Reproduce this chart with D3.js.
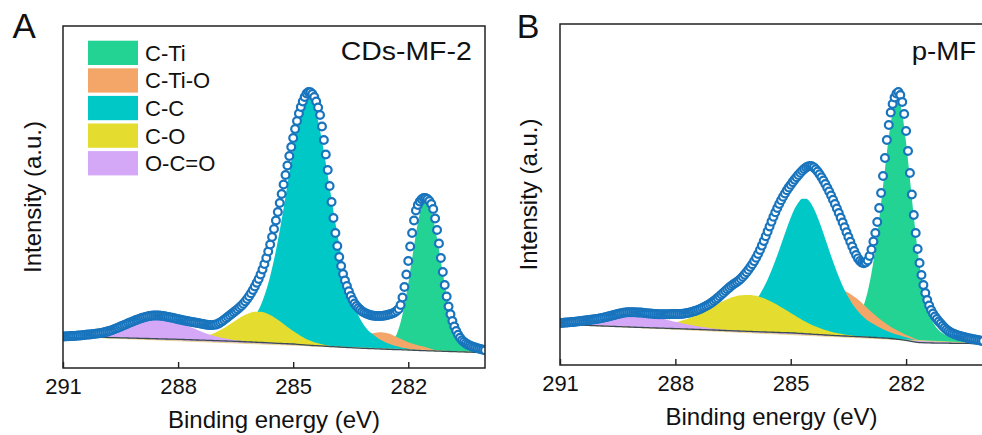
<!DOCTYPE html>
<html>
<head>
<meta charset="utf-8">
<script src="https://cdn.jsdelivr.net/npm/d3@7"></script>
<style>
  body { margin: 0; background: #fff; }
  svg { display: block; }
  text { font-family: "Liberation Sans", Arial, Helvetica, sans-serif; fill: #111; }
</style>
</head>
<body>
<svg id="chart" width="982" height="435"></svg>
<script>
// ---- C 1s XPS spectra: measured points, Shirley background and fitted components ----
const energyHigh = 291;          // binding energy at the left edge (eV)
const energyLow = 280;           // binding energy at the right edge (eV)
const measuredStep = 0.05;       // spacing of measured points (eV)
const fitStep = 0.1;             // spacing of background / component curves (eV)
const tickValues = [291, 288, 285, 282];

const componentNames = ["C-Ti", "C-Ti-O", "C-C", "C-O", "O-C=O"];
const componentColors = ["#22d394", "#f4a669", "#00c8c6", "#e4dc2f", "#d4a8f7"];

// Panel A: CDs-MF-2 (intensities in a.u.)
const measuredA = [
  315,316,317,318,319,320,321,323,324,326,
  328,330,332,334,336,338,340,343,345,348,
  350,354,359,364,370,376,383,390,398,406,
  414,422,430,438,447,455,463,471,479,486,
  493,499,505,510,515,519,522,524,525,525,
  524,522,520,517,513,510,506,502,497,493,
  488,484,480,476,472,468,465,461,458,454,
  450,447,443,440,436,433,430,429,430,432,
  436,444,455,468,482,497,512,527,542,557,
  572,588,605,623,643,665,690,718,748,780,
  815,852,890,935,985,1040,1100,1165,1235,1310,
  1390,1475,1560,1650,1740,1835,1930,2025,2120,2210,
  2300,2390,2470,2545,2610,2665,2710,2745,2760,2758,
  2740,2710,2665,2605,2530,2415,2280,2135,1980,1820,
  1660,1500,1350,1220,1110,1020,940,875,820,768,
  720,680,645,620,600,582,565,555,545,537,
  530,526,523,521,520,520,521,523,526,530,
  535,541,548,558,572,590,630,705,810,935,
  1070,1215,1350,1475,1575,1630,1665,1688,1700,1700,
  1690,1670,1640,1590,1495,1380,1245,1100,960,830,
  715,615,537,470,415,370,333,302,278,261,
  246,234,225,217,210,204,198,192,187,182,
  177
];
const backgroundA = [
  317,316,315,314,313,312,311,310,309,308,
  307,306,305,304,303,302,301,300,299,298,
  297,296,295,294,293,292,291,290,289,288,
  287,286,284,283,282,280,279,278,276,275,
  274,272,271,269,268,266,265,263,261,260,
  258,256,255,253,251,249,247,245,243,242,
  240,237,234,231,228,225,223,221,219,216,
  214,212,210,207,205,203,201,199,197,196,
  194,193,191,190,188,187,185,184,183,181,
  180,178,177,175,174,172,171,170,169,167,
  166,165,164,162,161,160,159,157,156,155,
  153
];
// fitted components, in legend order; each starts at the energy in fitStartsA
const fitStartsA = [282.9, 283.5, 287.0, 288.3, 291.0];
const cTiA = [1,3,7,18,40,82,156,274,444,664,916,1166,1370,1485,1488,1396,1228,1013,784,569,387,247,148,83,44,22,10,4,2,1];
const cTiOA = [62,82,100,118,134,148,158,165,168,165,157,143,127,110,93,77,66,56,48,40,30,19,9,3,0];
const ccA = [
  58,64,70,78,87,99,115,137,166,205,
  258,326,415,528,666,833,1025,1240,1473,1711,
  1945,2156,2329,2440,2480,2440,2329,2156,1945,1711,
  1473,1240,1025,833,666,528,415,326,258,205,
  166,137,110,88,70,55,43,33,25,18,
  13,9,6,4,2,1,0
];
const coA = [
  1,1,2,3,4,7,10,14,21,29,
  39,51,67,85,107,130,156,183,210,236,
  259,279,294,304,307,304,294,279,259,236,
  210,183,156,130,107,85,67,51,39,29,
  21,14,10,7,4,3,2,1,1
];
const ocoA = [
  3,5,6,9,12,15,20,26,33,41,
  50,61,73,86,100,115,130,146,160,174,
  187,198,206,212,215,215,212,206,198,187,
  174,160,146,130,115,100,86,73,61,50,
  41,33,26,20,15,12,9,6,5,3,
  2,1,1
];

// Panel B: p-MF (intensities in a.u.)
const measuredB = [
  420,421,422,424,425,427,429,431,433,435,
  437,440,442,444,447,449,452,454,457,460,
  463,467,471,475,479,484,489,494,499,504,
  509,514,518,522,525,527,528,528,528,527,
  526,525,524,522,520,518,516,514,512,510,
  509,508,507,507,507,507,508,508,509,509,
  509,509,510,511,513,516,519,523,528,533,
  539,546,553,561,570,580,590,601,613,626,
  640,655,671,688,705,723,740,757,774,790,
  805,818,830,845,862,882,904,928,953,980,
  1008,1039,1073,1110,1150,1194,1240,1288,1336,1385,
  1434,1483,1528,1570,1610,1647,1682,1715,1747,1776,
  1803,1829,1854,1878,1901,1923,1943,1961,1976,1986,
  1990,1987,1976,1958,1935,1908,1878,1845,1810,1773,
  1735,1695,1653,1610,1565,1520,1473,1425,1377,1328,
  1280,1232,1185,1140,1100,1066,1040,1024,1018,1025,
  1045,1090,1155,1235,1320,1430,1570,1720,1890,2070,
  2250,2400,2525,2610,2675,2715,2730,2700,2630,2510,
  2340,2140,1920,1705,1500,1320,1160,1020,900,800,
  720,650,595,550,515,485,460,435,415,392,
  372,355,340,328,318,310,302,296,290,285,
  280,275,270,266,262,258,254,250,247,243,
  240
];
const backgroundB = [
  410,408,406,404,402,400,398,397,395,394,
  392,390,389,387,386,384,383,381,380,378,
  377,376,374,373,371,370,369,368,366,365,
  364,363,361,360,358,357,356,354,353,351,
  350,348,347,345,344,342,341,339,338,336,
  335,334,332,331,329,328,327,325,324,323,
  322,320,317,315,312,310,307,305,303,300,
  298,296,294,292,290,288,286,284,283,281,
  279,277,275,272,270,268,265,261,257,252,
  246,239,232,227,224,222,221,220,219,219,
  218,218,217,217,216,216,216,215,215,215,
  215
];
const fitStartsB = [283.8, 284.8, 287.2, 289.4, 291.0];
const cTiB = [
  60,69,81,98,124,163,225,318,454,642,
  887,1184,1517,1855,2150,2347,2396,2263,1980,1622,
  1253,920,648,444,301,207,148,111,88,73,
  63,55,48,43,39,35,32,29,27
];
const cTiOB = [
  192,222,254,287,321,354,385,412,435,451,
  459,459,451,435,412,385,354,321,287,254,
  222,192,165,140,118,99,82,68,55,45,
  35,25,16,9,4,1,0
];
const ccB = [
  61,66,72,78,86,96,107,122,140,162,
  190,224,265,316,376,446,527,618,718,825,
  936,1047,1151,1242,1309,1348,1351,1320,1257,1171,
  1069,959,847,739,637,544,461,389,327,275,
  231,196,167,144,125,105,88,73,60,50,
  42,36,31,27,23,19,15,12,9,6,
  4,2,0
];
const coB = [
  1,2,3,4,5,7,9,12,16,20,
  26,32,40,49,60,72,86,101,118,136,
  156,177,199,221,243,265,285,305,322,337,
  349,358,363,365,363,358,349,337,322,305,
  285,265,243,221,199,177,156,136,118,101,
  86,72,60,49,40,32,26,20,16,12,
  9,7,5,4,3,2,1
];
const ocoB = [
  25,30,35,41,47,54,61,69,76,84,
  92,99,106,112,118,123,126,129,130,130,
  129,126,123,118,112,106,99,92,84,76,
  69,61,54,47,41,35,30,25,21,17,
  14,11,9,7,6,4,3,2
];

// ---- layout of the two panels ----
const panels = [
  { letter: "A", sample: "CDs-MF-2", left: 63, right: 485, top: 26, bottom: 368, yMax: 3420,
    measured: measuredA, background: backgroundA, starts: fitStartsA,
    components: [cTiA, cTiOA, ccA, coA, ocoA], legend: true,
    letterPos: [12.5, 38.3, 35], samplePos: [340.7, 59.5, 131], yTitleX: 40.5 },
  { letter: "B", sample: "p-MF", left: 560, right: 983, top: 24, bottom: 365, yMax: 3410,
    measured: measuredB, background: backgroundB, starts: fitStartsB,
    components: [cTiB, cTiOB, ccB, coB, ocoB], legend: false,
    letterPos: [516.8, 38.3, 34], samplePos: [911.7, 60, 64.3], yTitleX: 536.5 }
];

const svg = d3.select("#chart");
const energyAt = (start, i, step) => +(start - i * step).toFixed(2);

panels.forEach((p, pi) => {
  const x = d3.scaleLinear().domain([energyHigh, energyLow]).range([p.left, p.right]);
  const y = d3.scaleLinear().domain([0, p.yMax]).range([p.bottom, p.top]);
  const g = svg.append("g");

  const clipId = "plot-clip-" + pi;
  svg.append("clipPath").attr("id", clipId)
    .append("rect").attr("x", p.left).attr("y", p.top)
    .attr("width", p.right - p.left).attr("height", p.bottom - p.top);

  const plot = g.append("g").attr("clip-path", `url(#${clipId})`);

  const bgPoints = p.background.map((v, i) => ({ e: energyAt(energyHigh, i, fitStep), v }));
  const bgAt = e => p.background[Math.round((energyHigh - e) / fitStep)];

  // fitted components, filled from the background upward
  p.components.forEach((vals, ci) => {
    const start = p.starts[ci];
    const pts = vals.map((v, i) => {
      const e = energyAt(start, i, fitStep);
      return { e, base: bgAt(e), v };
    });
    const area = d3.area()
      .x(d => x(d.e))
      .y0(d => y(d.base))
      .y1(d => y(d.base + d.v))
      .curve(d3.curveMonotoneX);
    plot.append("path").datum(pts)
      .attr("d", area)
      .attr("fill", componentColors[ci]);
  });

  // O-C=O sliver between the Shirley background and the straight end-to-end baseline
  const bgLineStraight = d3.line().x(d => x(d.e)).y(d => y(d.v));
  plot.append("path")
    .attr("d", bgLineStraight(bgPoints) + "Z")
    .attr("fill", componentColors[4]);
  plot.append("path")
    .attr("d", bgLineStraight([bgPoints[0], bgPoints[bgPoints.length - 1]]))
    .attr("fill", "none").attr("stroke", "#e9d77a").attr("stroke-width", 0.8);

  // Shirley background
  const bgLine = d3.line().x(d => x(d.e)).y(d => y(d.v)).curve(d3.curveMonotoneX);
  plot.append("path").datum(bgPoints)
    .attr("d", bgLine)
    .attr("fill", "none").attr("stroke", "#3b4a55").attr("stroke-width", 1.3);

  // measured data points
  const pts = p.measured.map((v, i) => ({ e: energyAt(energyHigh, i, measuredStep), v }));
  plot.append("g").selectAll("circle").data(pts).join("circle")
    .attr("cx", d => x(d.e)).attr("cy", d => y(d.v)).attr("r", 3.9)
    .attr("fill", "#fff").attr("stroke", "#1874bd").attr("stroke-width", 2.2);

  // frame
  g.append("rect")
    .attr("x", p.left).attr("y", p.top)
    .attr("width", p.right - p.left).attr("height", p.bottom - p.top)
    .attr("fill", "none").attr("stroke", "#222").attr("stroke-width", 1.5);

  // bottom axis with inward ticks
  const axis = g.append("g").attr("transform", `translate(0,${p.bottom})`)
    .call(d3.axisBottom(x).tickValues(tickValues).tickSizeInner(-6).tickSizeOuter(0).tickFormat(d3.format("d")));
  axis.select(".domain").remove();
  axis.selectAll(".tick line").attr("stroke", "#222").attr("stroke-width", 1.4);
  axis.selectAll(".tick text")
    .attr("y", 26).attr("dy", null)
    .attr("font-size", 22).attr("fill", "#111")
    .style("font-family", '"Liberation Sans", Arial, sans-serif');

  // axis titles
  g.append("text")
    .attr("x", (p.left + p.right) / 2).attr("y", p.bottom + 60)
    .attr("text-anchor", "middle").attr("font-size", 24)
    .text("Binding energy (eV)");
  g.append("text")
    .attr("transform", `translate(${p.yTitleX},${(p.top + p.bottom) / 2}) rotate(-90)`)
    .attr("text-anchor", "middle").attr("font-size", 24)
    .text("Intensity (a.u.)");

  // panel letter and sample name
  g.append("text")
    .attr("x", p.letterPos[0]).attr("y", p.letterPos[1])
    .attr("font-size", p.letterPos[2])
    .text(p.letter);
  g.append("text")
    .attr("x", p.samplePos[0]).attr("y", p.samplePos[1])
    .attr("font-size", 25)
    .attr("textLength", p.samplePos[2]).attr("lengthAdjust", "spacingAndGlyphs")
    .text(p.sample);

  // legend
  if (p.legend) {
    const lg = g.append("g");
    componentNames.forEach((name, i) => {
      const top = 40.7 + i * 27.6;
      lg.append("rect")
        .attr("x", 88).attr("y", top).attr("width", 50).attr("height", 24.3)
        .attr("fill", componentColors[i]);
      lg.append("text")
        .attr("x", 145).attr("y", top + 20)
        .attr("font-size", 22)
        .text(name);
    });
  }
});
</script>
</body>
</html>
